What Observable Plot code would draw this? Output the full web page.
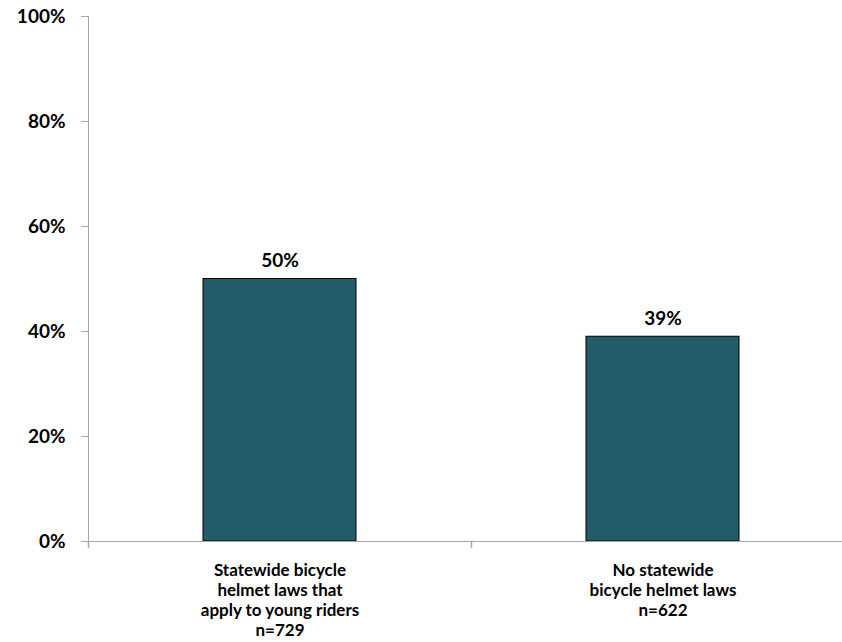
<!DOCTYPE html>
<html>
<head>
<meta charset="utf-8">
<script src="https://cdn.jsdelivr.net/npm/d3@7"></script>
<script src="https://cdn.jsdelivr.net/npm/@observablehq/plot@0.6"></script>
<style>
  html, body { margin: 0; padding: 0; background: #fff; }
  #chart { width: 842px; height: 642px; }
</style>
</head>
<body>
<div id="chart"></div>
<script>
const categories = [
  "Statewide bicycle\nhelmet laws that\napply to young riders\nn=729",
  "No statewide\nbicycle helmet laws\nn=622"
];
const values = [50, 39];
const yTicks = [0, 20, 40, 60, 80, 100];

const data = categories.map((c, i) => ({category: c, value: values[i]}));

const W = 842, H = 642;
const xRange = [88, 854];
const step = (xRange[1] - xRange[0]) / categories.length;
const font = "Lato, 'Open Sans', sans-serif";

const downTick = {
  draw(context, l) { context.moveTo(0, 0); context.lineTo(0, l); }
};

const chart = Plot.plot({
  width: W,
  height: H,
  marginLeft: 88,
  marginRight: 0,
  marginTop: 16,
  marginBottom: 101,
  style: {fontFamily: font, background: "#fff", color: "#000"},
  x: {type: "band", domain: categories, range: xRange, paddingInner: 0.6, paddingOuter: 0.3, label: null},
  y: {type: "linear", domain: [0, 100], label: null},
  marks: [
    Plot.frame({anchor: "left", stroke: "#a6a6a6"}),
    Plot.barY(data, {x: "category", y: "value", fill: "#245B69", stroke: "#000", strokeWidth: 1}),
    Plot.text(data, {x: "category", y: "value", text: d => d.value + "%", lineAnchor: "bottom", dy: -12, fontSize: 19, fontWeight: "bold", fill: "#000"}),
    Plot.ruleY([0], {stroke: "#a6a6a6"}),
    Plot.vector(categories, {x: d => d, y: () => 0, dx: -step / 2, length: 6, shape: downTick, anchor: "start", rotate: 0, stroke: "#a6a6a6"}),
    Plot.axisY({ticks: yTicks, tickFormat: d => d + "%", tickSize: 7, tickPadding: 16, fontSize: 19, fontWeight: "bold", stroke: "#a6a6a6", fill: "#000"}),
    Plot.axisX({tickSize: 0, tickPadding: 20, fontSize: 17, fontWeight: "bold", lineHeight: 1.18, fill: "#000"})
  ]
});

document.getElementById("chart").appendChild(chart);
</script>
</body>
</html>
